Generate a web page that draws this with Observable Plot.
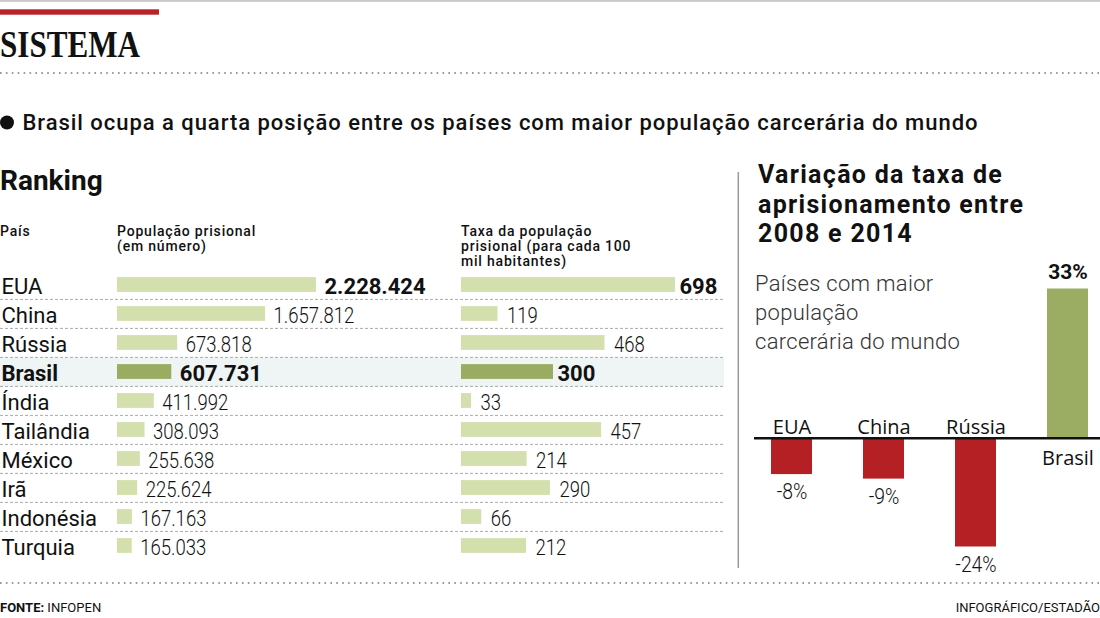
<!DOCTYPE html>
<html><head><meta charset="utf-8">
<script src="https://cdn.jsdelivr.net/npm/d3@7"></script>
<script src="https://cdn.jsdelivr.net/npm/@observablehq/plot@0.6"></script>
<style>
html,body{margin:0;padding:0;background:#fff;}
#root{position:relative;width:1100px;height:618px;overflow:hidden;font-family:Roboto,sans-serif;}
#root svg{position:absolute;left:0;top:0;}
</style></head><body>
<div id="root"></div>
<script>
// ---- data ----
const countries = ["EUA","China","Rússia","Brasil","Índia","Tailândia","México","Irã","Indonésia","Turquia"];
const population = [2228424,1657812,673818,607731,411992,308093,255638,225624,167163,165033];
const rate = [698,119,468,300,33,457,214,290,66,212];
const highlighted = ["Brasil"];
const boldRows = ["EUA","Brasil"];
const varCountries = ["EUA","China","Rússia","Brasil"];
const varValues = [-8,-9,-24,33];

const W = 1100, H = 618;
const ptBR = d3.formatLocale({decimal:",", thousands:".", grouping:[3], currency:["R$",""]});
const fmt = ptBR.format(",d");
const SANS = "Roboto, sans-serif";

const rows = countries.map((c,i)=>({country:c, pop:population[i], rate:rate[i],
  hi: highlighted.includes(c), bold: boldRows.includes(c)}));
const vars = varCountries.map((c,i)=>({country:c, value:varValues[i]}));

const root = d3.select("#root");

// ---- decorations & headings ----
const deco = root.append("svg").attr("width",W).attr("height",H);
deco.append("rect").attr("x",0).attr("y",0).attr("width",W).attr("height",1.8).attr("fill","#c8c8c8");
deco.append("rect").attr("x",0).attr("y",9.3).attr("width",159).attr("height",5.4).attr("fill","#b8232b");
deco.append("text").attr("x",0).attr("y",57).attr("font-family","'Liberation Serif', serif")
  .attr("font-weight",700).attr("font-size",37).attr("textLength",140).attr("lengthAdjust","spacingAndGlyphs")
  .attr("fill","#111").text("SISTEMA");
function dotted(y){
  deco.append("line").attr("x1",0).attr("x2",W).attr("y1",y).attr("y2",y)
    .attr("stroke","#777").attr("stroke-width",1.6).attr("stroke-dasharray","1.6 4.3");
}
dotted(73); dotted(583);
deco.append("circle").attr("cx",7).attr("cy",122.5).attr("r",7).attr("fill","#111");
function txt(x,y,s,o={}){
  const t = deco.append("text").attr("x",x).attr("y",y)
    .attr("font-family",o.family||SANS)
    .attr("font-size",o.size||14).attr("font-weight",o.weight||400)
    .attr("fill",o.fill||"#111").attr("text-anchor",o.anchor||"start");
  if (o.ls) t.attr("letter-spacing",o.ls);
  if (o.len) t.attr("textLength",o.len).attr("lengthAdjust","spacing");
  t.text(s);
  return t;
}
txt(22.5,130,"Brasil ocupa a quarta posição entre os países com maior população carcerária do mundo",{size:22,weight:500,len:955});
txt(0,190,"Ranking",{size:28,weight:700});
const hdr = {size:14,weight:500,ls:0.8};
txt(0,236,"País",hdr);
txt(117,236,"População prisional",hdr);
txt(117,251,"(em número)",hdr);
txt(461,236,"Taxa da população",hdr);
txt(461,251,"prisional (para cada 100",hdr);
txt(461,266,"mil habitantes)",hdr);
const ttl = {size:25,weight:700,ls:1.3};
txt(758,183,"Variação da taxa de",ttl);
txt(758,212.5,"aprisionamento entre",ttl);
txt(758,241.5,"2008 e 2014",ttl);
const sub = {size:22,weight:300,fill:"#333",ls:0.3};
txt(755,291,"Países com maior",sub);
txt(755,320,"população",sub);
txt(755,349,"carcerária do mundo",sub);
deco.append("line").attr("x1",738.3).attr("x2",738.3).attr("y1",172).attr("y2",568)
  .attr("stroke","#9a9a9a").attr("stroke-width",1.5);
const f1 = txt(0,612,"",{size:13});
f1.append("tspan").attr("font-weight",700).text("FONTE:");
f1.append("tspan").text(" INFOPEN");
txt(1100,612,"INFOGRÁFICO/ESTADÃO",{size:13,anchor:"end"});

// condense light numeric labels (the original uses a condensed face)
function condense(svg, k){
  svg.querySelectorAll('g[font-weight="300"] text').forEach(t=>{
    const L = t.getComputedTextLength();
    if (L>0){ t.setAttribute("textLength", L*k); t.setAttribute("lengthAdjust","spacingAndGlyphs"); }
  });
}

// ---- ranking table ----
const yBand = {type:"band", domain:countries, range:[268.6,560.6], padding:0, axis:null};
const step = (560.6-268.6)/countries.length;
const barInset = (step-15)/2;
const light = "#d3dfad", dark = "#9aab62";

const plotA = Plot.plot({
  width:W, height:H, marginLeft:0, marginRight:W-724, marginTop:0, marginBottom:0,
  style:{background:"transparent", overflow:"visible"},
  x:{domain:[0,d3.max(population)], range:[117,316], axis:null},
  y:yBand,
  marks:[
    Plot.ruleY(rows.filter(d=>d.hi), {y:"country", stroke:"#eef5f4", strokeWidth:step}),
    Plot.ruleY(rows.slice(1), {y:"country", dy:-step/2, stroke:"#aaa", strokeWidth:1, strokeDasharray:"3,2"}),
    Plot.barX(rows.filter(d=>!d.hi), {x:"pop", y:"country", fill:light, insetTop:barInset, insetBottom:barInset}),
    Plot.barX(rows.filter(d=>d.hi), {x:"pop", y:"country", fill:dark, insetTop:barInset, insetBottom:barInset}),
    Plot.text(rows.filter(d=>!d.hi), {y:"country", text:"country", frameAnchor:"left", textAnchor:"start", dx:1, dy:1.5,
      fontSize:22, fontWeight:400, fill:"#111", fontFamily:SANS, letterSpacing:0.6}),
    Plot.text(rows.filter(d=>d.hi), {y:"country", text:"country", frameAnchor:"left", textAnchor:"start", dx:1, dy:1.5,
      fontSize:22, fontWeight:700, fill:"#111", fontFamily:SANS, letterSpacing:0.3}),
    Plot.text(rows.filter(d=>!d.bold), {x:"pop", y:"country", text:d=>fmt(d.pop), textAnchor:"start", dx:8, dy:2,
      fontSize:21.5, fontWeight:300, fill:"#111", fontFamily:SANS}),
    Plot.text(rows.filter(d=>d.bold), {x:"pop", y:"country", text:d=>fmt(d.pop), textAnchor:"start", dx:8, dy:1.5,
      fontSize:22, fontWeight:700, fill:"#111", fontFamily:SANS})
  ]
});
root.node().appendChild(plotA);
condense(plotA, 0.86);

const plotB = Plot.plot({
  width:W, height:H, marginLeft:0, marginRight:W-724, marginTop:0, marginBottom:0,
  style:{background:"transparent", overflow:"visible"},
  x:{domain:[0,d3.max(rate)], range:[461,675], axis:null},
  y:yBand,
  marks:[
    Plot.barX(rows.filter(d=>!d.hi), {x:"rate", y:"country", fill:light, insetTop:barInset, insetBottom:barInset}),
    Plot.barX(rows.filter(d=>d.hi), {x:"rate", y:"country", fill:dark, insetTop:barInset, insetBottom:barInset}),
    Plot.text(rows.filter(d=>!d.bold), {x:"rate", y:"country", text:d=>fmt(d.rate), textAnchor:"start", dx:9, dy:2,
      fontSize:21.5, fontWeight:300, fill:"#111", fontFamily:SANS}),
    Plot.text(rows.filter(d=>d.bold), {x:"rate", y:"country", text:d=>fmt(d.rate), textAnchor:"start", dx:4, dy:1.5,
      fontSize:22, fontWeight:700, fill:"#111", fontFamily:SANS})
  ]
});
root.node().appendChild(plotB);
condense(plotB, 0.86);

// ---- variation chart ----
const red = "#b52025", green = "#9bad63";
const neg = vars.filter(d=>d.value<0), pos = vars.filter(d=>d.value>=0);
const plotR = Plot.plot({
  width:W, height:H, marginLeft:754, marginRight:0, marginTop:0, marginBottom:0,
  style:{background:"transparent", overflow:"visible"},
  x:{type:"band", domain:varCountries, range:[770.5,1088.3], paddingInner:0.555, paddingOuter:0, axis:null},
  y:{domain:[d3.min(varValues), d3.max(varValues)], range:[546.5,288.5], axis:null},
  marks:[
    Plot.barY(neg, {x:"country", y:"value", fill:red}),
    Plot.barY(pos, {x:"country", y:"value", fill:green}),
    Plot.ruleY([0], {stroke:"#111", strokeWidth:2.5}),
    Plot.text(neg, {x:"country", y:0, text:"country", lineAnchor:"bottom", dy:-4, fontSize:20, fill:"#111", fontFamily:"'Open Sans', sans-serif"}),
    Plot.text(pos, {x:"country", y:0, text:"country", lineAnchor:"top", dy:12, fontSize:20, fill:"#111", fontFamily:"'Open Sans', sans-serif"}),
    Plot.text(neg, {x:"country", y:"value", text:d=>`${d.value}%`, lineAnchor:"top", dy:9, fontSize:22, fontWeight:300, fill:"#111", fontFamily:SANS}),
    Plot.text(pos, {x:"country", y:"value", text:d=>`${d.value}%`, lineAnchor:"bottom", dy:-10, fontSize:21, fontWeight:700, fill:"#111", fontFamily:SANS})
  ]
});
root.node().appendChild(plotR);
condense(plotR, 0.88);
</script>
</body></html>
